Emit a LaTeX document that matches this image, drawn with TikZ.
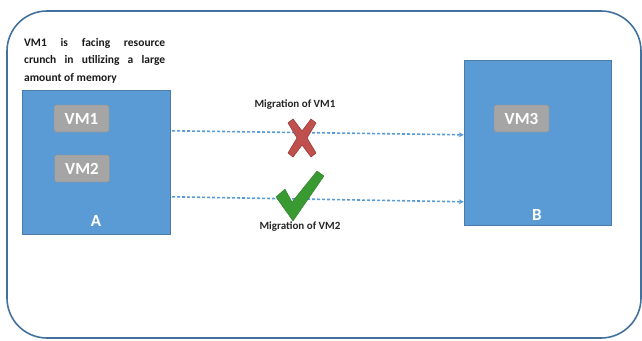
\documentclass[tikz,border=0pt]{standalone}
\usepackage{fontspec}
\setmainfont{Carlito}
\usetikzlibrary{calc,arrows.meta}
\definecolor{outer}{HTML}{41719C}
\definecolor{boxblue}{HTML}{5B9BD5}
\definecolor{vmgray}{HTML}{A5A5A5}
\definecolor{vmedge}{HTML}{8C8C8C}
\definecolor{xred}{HTML}{C0504D}
\definecolor{xredd}{HTML}{9B3B38}
\definecolor{okgreen}{HTML}{3A9A32}
\tikzset{
  hostbox/.style={draw=boxblue!80!black, line width=0.4pt, fill=boxblue, inner sep=0pt},
  vmbox/.style={draw=vmedge, fill=vmgray, rounded corners=2pt, minimum width=55pt, minimum height=27pt, inner sep=0pt, text=white, font=\fontsize{17}{17}\selectfont\bfseries},
  hostlabel/.style={text=white, font=\fontsize{17}{17}\selectfont\bfseries},
  miglabel/.style={font=\fontsize{11}{12}\selectfont\bfseries, text=black!85},
  mig/.style={draw=boxblue, line width=1.6pt, dash pattern=on 3pt off 2pt, -{Stealth[length=5pt,width=5pt]}}
}
\begin{document}
\begin{tikzpicture}[x=1pt,y=-1pt]
\useasboundingbox (0,0) rectangle (642,340);
\draw[outer, line width=1.6pt, rounded corners=40pt] (7,11) rectangle (641,338);
% note text
\node[anchor=north west, text width=141pt, align=justify, inner sep=0pt, font=\fontsize{11.5}{17.5}\selectfont\bfseries, text=black!90] (note) at (24,38)
  {VM1 is facing resource\linebreak crunch in utilizing a large\linebreak amount of memory};
% hosts
\node[hostbox, minimum width=148pt, minimum height=144pt] (A) at (96,162) {};
\node[hostbox, minimum width=147pt, minimum height=165pt] (B) at (537.5,142.5) {};
\node[hostlabel] (Alab) at (96,221) {A};
\node[hostlabel] (Blab) at (537,215) {B};
% VMs
\node[vmbox] (vm1) at (81.5,118.5) {VM1};
\node[vmbox] (vm2) at (82,168.5) {VM2};
\node[vmbox] (vm3) at (521.5,118.5) {VM3};
% arrows
\draw[mig] ($(A.north east)+(2,41)$) -- ($(B.north west)+(0,75)$);
\draw[mig] ($(A.north east)+(2,107)$) -- ($(B.north west)+(0,142)$);
% labels
\node[miglabel] (m1) at (295,105) {Migration of VM1};
\node[miglabel] (m2) at (300,227) {Migration of VM2};
% cross
\coordinate (xc) at (302,138);
\fill[xred, draw=xredd, line width=0.6pt, line join=round]
  ($(xc)+(-14,-15)$) -- ($(xc)+(-9,-19)$) -- ($(xc)+(0,-7)$) -- ($(xc)+(9,-19)$) -- ($(xc)+(14,-15)$) -- ($(xc)+(5,0)$) -- ($(xc)+(14,15)$) -- ($(xc)+(9,19)$) -- ($(xc)+(0,7)$) -- ($(xc)+(-9,19)$) -- ($(xc)+(-14,15)$) -- ($(xc)+(-5,0)$) -- cycle;
% check
\fill[okgreen, draw=okgreen!80!black, line width=0.4pt, line join=round]
  (276,197) -- (285,189) -- (292,202) -- (317,171) -- (324,176) -- (293,221) -- cycle;
\end{tikzpicture}
\end{document}
